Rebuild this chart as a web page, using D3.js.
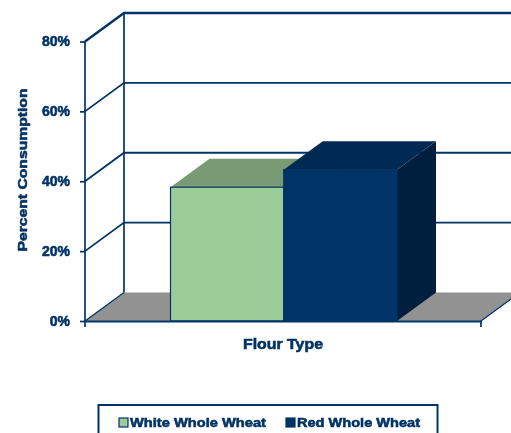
<!DOCTYPE html>
<html><head><meta charset="utf-8">
<script src="https://cdnjs.cloudflare.com/ajax/libs/d3/7.8.5/d3.min.js"></script>
<style>html,body{margin:0;padding:0;background:#fff;overflow:hidden}svg{display:block}text{font-family:"Liberation Sans",Arial,sans-serif;font-weight:bold;fill:#003366;stroke:#003366;stroke-width:.55px;filter:url(#soft)}</style>
</head><body><svg id="c" width="511" height="433"></svg>
<script>
const seriesNames = ["White Whole Wheat","Red Whole Wheat"];
const seriesValues = [38.3,43.3];
const frontColors = ["#9CCC98","#003366"];
const topColors = ["#789B75","#002A53"];
const sideColors = ["#789B75","#001F3F"];
const yTicks = [0,20,40,60,80];
const category = "Flour Type";
const xTitle = "Flour Type";
const yTitle = "Percent Consumption";

const W=511,H=433,navy="#003366";
const dx=39,dy=-28.5;
const svg=d3.select("#c");
svg.append("defs").append("filter").attr("id","soft").append("feGaussianBlur").attr("stdDeviation",.4);
const y=d3.scaleLinear().domain([0,80]).range([321,41.5]);
const x=d3.scaleBand().domain([category]).range([85,481]);
const bx=d3.scaleBand().domain(seriesNames).range([170.5,397]);
const g=svg.append("g");
const line=d3.line();
// floor
g.append("path").attr("d",line([[x.range()[0],y(0)],[x.range()[0]+dx,y(0)+dy],[x.range()[1]+dx,y(0)+dy],[x.range()[1],y(0)]])+"Z").attr("fill","#929292");
// walls and gridlines
const wall=g.append("g").attr("fill","none").attr("stroke",navy);
yTicks.slice(1).forEach(t=>{
  wall.append("path").attr("d",line([[85,y(t)],[85+dx,y(t)+dy],[W+10,y(t)+dy]])).attr("stroke-width",t===80?2.4:1.8);
});
wall.append("path").attr("d",line([[85+dx,y(0)+dy],[85+dx,y(80)+dy]])).attr("stroke-width",1.7);
wall.append("path").attr("d",line([[85,y(0)],[85+dx,y(0)+dy]])).attr("stroke-width",1.2);
wall.append("path").attr("d",line([[481,y(0)],[481+dx,y(0)+dy]])).attr("stroke-width",1.2);
// bars
seriesNames.forEach((s,i)=>{
  const x0=bx(s),x1=x0+bx.bandwidth(),t=y(seriesValues[i]),b=y(0);
  const bar=g.append("g");
  bar.append("path").attr("d",line([[x1,t],[x1+dx,t+dy],[x1+dx,b+dy],[x1,b]])+"Z").attr("fill",sideColors[i]);
  bar.append("path").attr("d",line([[x0,t],[x0+dx,t+dy],[x1+dx,t+dy],[x1,t]])+"Z").attr("fill",topColors[i]);
  bar.append("rect").attr("x",x0).attr("y",t).attr("width",x1-x0).attr("height",b-t).attr("fill",frontColors[i]).attr("stroke",navy).attr("stroke-width",1.2);
});
// axes
const ya=d3.axisLeft(y).tickValues(yTicks).tickFormat(d=>d+"%").tickSize(5).tickPadding(10);
const yg=svg.append("g").attr("transform","translate(85,0)").call(ya);
yg.selectAll("path,line").attr("stroke",navy).attr("stroke-width",1.7);
yg.select(".domain").attr("d",line([[0,y(80)],[0,y(0)]]));
yg.selectAll("text").attr("font-size",14).attr("font-family",null);
const xa=d3.axisBottom(x).tickValues([]).tickSizeOuter(0);
const xg=svg.append("g").attr("transform",`translate(0,${y(0)})`).call(xa);
xg.select(".domain").attr("stroke",navy).attr("stroke-width",2.2);
x.range().forEach(v=>xg.append("line").attr("x1",v).attr("x2",v).attr("y1",0).attr("y2",6).attr("stroke",navy).attr("stroke-width",1.7));
// titles
svg.append("text").attr("x",283).attr("y",349).attr("text-anchor","middle").attr("font-size",14).attr("textLength",80).attr("lengthAdjust","spacingAndGlyphs").text(xTitle);
svg.append("text").attr("transform","translate(27,170) rotate(-90)").attr("text-anchor","middle").attr("font-size",12.5).attr("textLength",163).attr("lengthAdjust","spacingAndGlyphs").text(yTitle);
// legend
svg.append("rect").attr("x",98.5).attr("y",405).attr("width",339).attr("height",40).attr("fill","#fff").attr("stroke",navy).attr("stroke-width",2);
const legX=[119,286],txtLen=[136,123];
seriesNames.forEach((s,i)=>{
  svg.append("rect").attr("x",legX[i]).attr("y",418).attr("width",9).attr("height",9).attr("fill",frontColors[i]).attr("stroke",navy).attr("stroke-width",1.2);
  svg.append("text").attr("x",legX[i]+11).attr("y",426.5).attr("font-size",12.5).attr("textLength",txtLen[i]).attr("lengthAdjust","spacingAndGlyphs").text(s);
});
</script></body></html>
